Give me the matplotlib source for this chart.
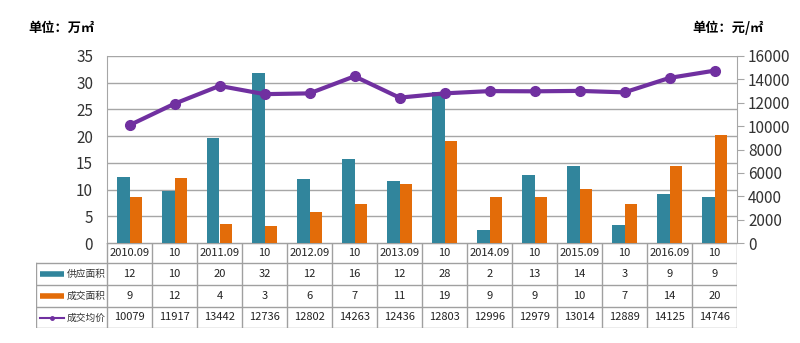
import matplotlib.pyplot as plt
import numpy as np

plt.rcParams['font.family'] = ['Noto Sans CJK SC', 'DejaVu Sans']

periods = ['2010.09', '10', '2011.09', '10', '2012.09', '10', '2013.09', '10',
           '2014.09', '10', '2015.09', '10', '2016.09', '10']
supply = np.array([12.4, 9.8, 19.6, 31.9, 12.0, 15.8, 11.6, 28.2, 2.4, 12.7, 14.4, 3.4, 9.2, 8.6])
deal = np.array([8.7, 12.2, 3.6, 3.1, 5.8, 7.3, 11.1, 19.0, 8.7, 8.7, 10.2, 7.3, 14.4, 20.3])
price = np.array([10079, 11917, 13442, 12736, 12802, 14263, 12436, 12803,
                  12996, 12979, 13014, 12889, 14125, 14746])
row_names = ['供应面积', '成交面积', '成交均价']

blue = '#31859C'
orange = '#E36C09'
purple = '#7030A0'
grid_c = '#A6A6A6'

W, H = 800, 343
fig = plt.figure(figsize=(8, 3.43), dpi=100)

# main chart area (pixel box 107..737, 56..243)
ax = fig.add_axes([107 / W, (H - 243) / H, 630 / W, 187 / H])
x = np.arange(len(periods))
bw = 0.28
ax.bar(x - bw / 2, supply, bw, color=blue, zorder=3)
ax.bar(x + bw / 2, deal, bw, color=orange, zorder=3)
ax.set_xlim(-0.5, len(periods) - 0.5)
ax.set_ylim(0, 35)
ax.set_yticks(np.arange(0, 36, 5))
ax.set_xticks([])
ax.grid(axis='y', color=grid_c, lw=1, zorder=0)
ax.tick_params(axis='y', length=0, labelsize=11, pad=10, colors='#333333')
for s in ['top', 'right']:
    ax.spines[s].set_visible(False)
for s in ['left', 'bottom']:
    ax.spines[s].set_color(grid_c)

ax2 = ax.twinx()
ax2.plot(x, price, color=purple, lw=3, marker='o', ms=7, zorder=4)
ax2.set_ylim(0, 16000)
ax2.set_yticks(np.arange(0, 16001, 2000))
ax2.tick_params(axis='y', length=5, labelsize=11, pad=3, colors='#333333')
ax2.tick_params(axis='y', color=grid_c)
for s in ['top', 'left', 'bottom']:
    ax2.spines[s].set_visible(False)
ax2.spines['right'].set_color(grid_c)

fig.text(28 / W, 1 - 28 / H, '单位：万㎡', fontsize=9.5, fontweight='bold', va='center')
fig.text(692 / W, 1 - 28 / H, '单位：元/㎡', fontsize=9.5, fontweight='bold', va='center')

# data table below the chart
tab = fig.add_axes([36 / W, (H - 328) / H, (737 - 36) / W, (328 - 243) / H])
left = -0.5 - 71 / 45
right = len(periods) - 0.5
tab.set_xlim(left, right)
tab.set_ylim(328, 243)
tab.axis('off')
rows = [243, 263, 285, 307, 328]
lc = '#A0A0A0'
tab.plot([-0.5, right], [rows[0], rows[0]], color=lc, lw=1)
for r in rows[1:]:
    tab.plot([left, right], [r, r], color=lc, lw=1)
tab.plot([left, left], [rows[1], rows[-1]], color=lc, lw=1)
for i in range(len(periods) + 1):
    tab.plot([i - 0.5, i - 0.5], [rows[0], rows[-1]], color=lc, lw=1)

tc = '#222222'
for i, p in enumerate(periods):
    tab.text(i, (rows[0] + rows[1]) / 2, p, ha='center', va='center', fontsize=8, color=tc)
    tab.text(i, (rows[1] + rows[2]) / 2, '%d' % round(supply[i]), ha='center', va='center', fontsize=8, color=tc)
    tab.text(i, (rows[2] + rows[3]) / 2, '%d' % round(deal[i]), ha='center', va='center', fontsize=8, color=tc)
    tab.text(i, (rows[3] + rows[4]) / 2, '%d' % price[i], ha='center', va='center', fontsize=8, color=tc)

# legend glyphs in the first column
g0, g1 = left + 4 / 45, left + 28 / 45
styles = [dict(color=blue, lw=4, solid_capstyle='butt'),
          dict(color=orange, lw=4, solid_capstyle='butt'),
          dict(color=purple, lw=1.5, marker='o', ms=2.5, markevery=[1])]
for k, name in enumerate(row_names):
    yc = (rows[k + 1] + rows[k + 2]) / 2
    tab.plot([g0, (g0 + g1) / 2, g1], [yc] * 3, **styles[k])
    tab.text(-0.53, yc, name, ha='right', va='center', fontsize=7, color='#333333')

plt.savefig('out.png', dpi=100)
